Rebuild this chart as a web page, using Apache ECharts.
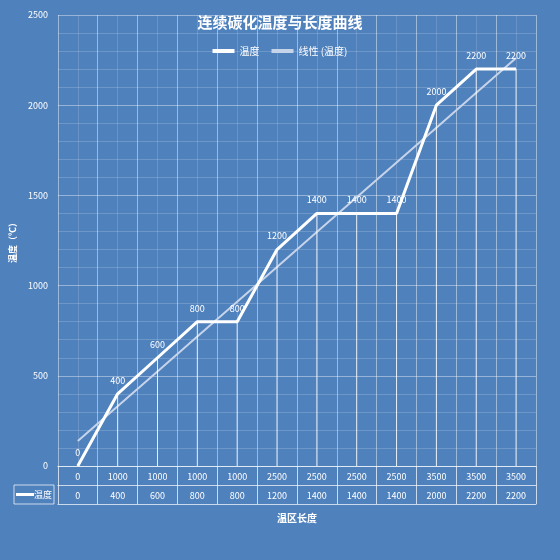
<!DOCTYPE html>
<html><head><meta charset="utf-8">
<script src="https://cdn.jsdelivr.net/npm/echarts@6/dist/echarts.min.js"></script>
<style>html,body{margin:0;padding:0;background:#4f81bd}#c{width:560px;height:560px}</style>
</head><body><div id="c"></div>
<script>
const categories = ['0','1000','1000','1000','1000','2500','2500','2500','2500','3500','3500','3500'];
const temps = [0,400,600,800,800,1200,1400,1400,1400,2000,2200,2200];
const yTicks = [0,500,1000,1500,2000,2500];

// linear trendline (least squares over point index)
const n = temps.length;
const xm = (n + 1) / 2, ym = temps.reduce((a,b)=>a+b,0)/n;
let sxy=0,sxx=0;
temps.forEach((v,i)=>{const dx=i+1-xm;sxy+=dx*(v-ym);sxx+=dx*dx;});
const slope=sxy/sxx, icpt=ym-slope*xm;
const trend = temps.map((v,i)=>+(icpt+slope*(i+1)).toFixed(1));

const F = '"Liberation Sans Narrow","Noto Sans CJK SC",sans-serif';
const W='#ffffff';
const chart = echarts.init(document.getElementById('c'));
const L=54,R=24,T=15,B=94;
chart.setOption({
  backgroundColor:'#4f81bd',
  animation:false,
  title:{text:'连续碳化温度与长度曲线',left:'center',top:10,textStyle:{color:W,fontSize:15,fontWeight:'bold',fontFamily:'"Noto Sans CJK SC",sans-serif'}},
  legend:{top:41,left:'center',itemWidth:22,itemHeight:4,itemGap:12,
    textStyle:{color:W,fontSize:10,fontFamily:F},
    data:[{name:'温度',icon:'rect'},{name:'线性 (温度)',icon:'rect',itemStyle:{color:'#c6d4ea'}}]},
  grid:{left:L,right:R,top:T,bottom:B,containLabel:false},
  xAxis:[
    {type:'category',data:categories,boundaryGap:true,
     axisLine:{lineStyle:{color:'rgba(255,255,255,0.7)'}},
     axisTick:{show:true,interval:0,length:19,lineStyle:{color:'rgba(255,255,255,0.7)'}},
     axisLabel:{color:W,fontSize:9,fontFamily:F,interval:0,margin:6},
     splitLine:{show:true,interval:0,lineStyle:{color:'rgba(255,255,255,0.35)'}},
     name:'温区长度',nameLocation:'middle',nameGap:47,
     nameTextStyle:{color:W,fontSize:10,fontWeight:'bold',fontFamily:'"Noto Sans CJK SC",sans-serif'}},
    {type:'category',data:temps.map(String),position:'bottom',offset:19,boundaryGap:true,
     axisLine:{lineStyle:{color:'rgba(255,255,255,0.7)'}},
     axisTick:{show:true,interval:0,length:19,lineStyle:{color:'rgba(255,255,255,0.7)'}},
     axisLabel:{color:W,fontSize:9,fontFamily:F,interval:0,margin:6}},
    {type:'category',data:categories,position:'bottom',offset:38,
     axisLine:{lineStyle:{color:'rgba(255,255,255,0.7)'}},axisTick:{show:false},axisLabel:{show:false}},
    {type:'value',min:0,max:24,interval:1,show:true,position:'top',
     axisLine:{show:false},axisTick:{show:false},axisLabel:{show:false},
     splitLine:{show:true,lineStyle:{color:'rgba(255,255,255,0.15)'}}}
  ],
  yAxis:{type:'value',min:0,max:2500,interval:500,
    axisLabel:{color:W,fontSize:9,fontFamily:F,margin:10,formatter:v=>String(v)},
    axisLine:{show:false},axisTick:{show:false},
    splitLine:{lineStyle:{color:'rgba(255,255,255,0.4)'}},
    minorTick:{show:false,splitNumber:5},
    minorSplitLine:{show:true,lineStyle:{color:'rgba(255,255,255,0.18)'}},
    name:'温度（℃）',nameLocation:'middle',nameGap:30,nameRotate:90,
    nameTextStyle:{color:W,fontSize:9,fontWeight:'bold',fontFamily:'"Noto Sans CJK SC",sans-serif'}},
  series:[
    {type:'bar',data:temps,barWidth:1,silent:true,itemStyle:{color:'rgba(255,255,255,0.85)'},
     label:{show:true,position:'top',distance:9,color:W,fontSize:9,fontFamily:F,formatter:p=>String(p.value)},
     z:5},
    {name:'温度',type:'line',data:temps,symbol:'none',lineStyle:{color:W,width:3},itemStyle:{color:W},z:3},
    {name:'线性 (温度)',type:'line',data:trend,symbol:'none',lineStyle:{color:'#c6d4ea',width:2},itemStyle:{color:'#c6d4ea'},z:2}
  ],
  graphic:[
    {type:'line',shape:{x1:14,y1:485,x2:L,y2:485},style:{stroke:'rgba(255,255,255,0.7)',lineWidth:1}},
    {type:'line',shape:{x1:14,y1:504,x2:L,y2:504},style:{stroke:'rgba(255,255,255,0.7)',lineWidth:1}},
    {type:'line',shape:{x1:14,y1:485,x2:14,y2:504},style:{stroke:'rgba(255,255,255,0.7)',lineWidth:1}},
    {type:'line',shape:{x1:L,y1:485,x2:L,y2:504},style:{stroke:'rgba(255,255,255,0.7)',lineWidth:1}},
    {type:'rect',shape:{x:16,y:493,width:18,height:3},style:{fill:W}},
    {type:'text',x:34,y:494.5,style:{text:'温度',fill:W,fontSize:9,fontFamily:'"Noto Sans CJK SC",sans-serif',verticalAlign:'middle'}}
  ]
});
</script></body></html>
